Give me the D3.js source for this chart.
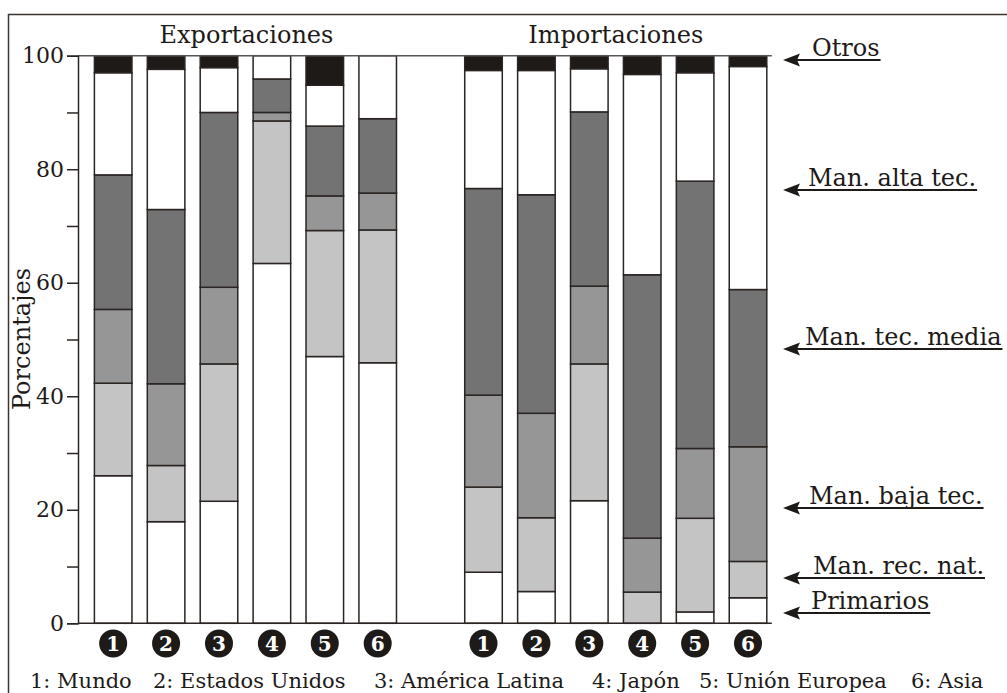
<!DOCTYPE html>
<html><head><meta charset="utf-8">
<script src="https://cdn.jsdelivr.net/npm/d3@7"></script>
<style>
html,body{margin:0;padding:0;background:#fff;}
svg{display:block;}
text{font-family:"DejaVu Serif",serif;fill:#1e1a18;}
</style></head>
<body>
<svg id="chart" width="1007" height="693"></svg>
<script>
// ---- data ----
const regions = ["Mundo","Estados Unidos","América Latina","Japón","Unión Europea","Asia"];
const regionNumbers = ["1","2","3","4","5","6"];
const seriesNames = ["Primarios","Man. rec. nat.","Man. baja tec.","Man. tec. media","Man. alta tec.","Otros"];
const groupTitles = ["Exportaciones","Importaciones"];
const yTicks = [0,20,40,60,80,100];
const yMinorTicks = [10,30,50,70,90];

const expPrimarios = [26.0, 17.9, 21.5, 63.4, 47.0, 45.9];
const expRecNat    = [16.3,  9.9, 24.2, 25.1, 22.2, 23.4];
const expBaja      = [13.0, 14.4, 13.5,  1.5,  6.1,  6.5];
const expMedia     = [23.7, 30.7, 30.8,  5.9, 12.3, 13.1];
const expAlta      = [18.0, 24.7,  7.9,  4.1,  7.2, 11.1];
const expOtros     = [ 3.0,  2.4,  2.1,  0.0,  5.2,  0.0];

const impPrimarios = [ 9.0,  5.6, 21.6,  0.0,  2.0,  4.5];
const impRecNat    = [15.0, 13.0, 24.1,  5.5, 16.5,  6.4];
const impBaja      = [16.2, 18.4, 13.7,  9.5, 12.3, 20.2];
const impMedia     = [36.4, 38.5, 30.7, 46.4, 47.1, 27.7];
const impAlta      = [20.8, 21.9,  7.6, 35.3, 19.1, 39.3];
const impOtros     = [ 2.6,  2.6,  2.3,  3.3,  3.0,  1.9];

// ---- styles / layout ----
const colors = ["#ffffff","#c4c4c4","#969696","#737373","#ffffff","#1e1a18"];
const ink = "#2a2522";
const legendY = [613, 578, 508, 349, 190, 60];   // arrow line y per series
const legendTextX = [811, 813, 809, 805, 808, 812];
const footerX = [30, 153, 374, 592, 699, 911];

const svg = d3.select("#chart");

// build rows
const expSeries = [expPrimarios, expRecNat, expBaja, expMedia, expAlta, expOtros];
const impSeries = [impPrimarios, impRecNat, impBaja, impMedia, impAlta, impOtros];
const rows = [];
regions.forEach((r,i)=>{
  const o = {key:"E"+i, idx:i};
  seriesNames.forEach((s,j)=>o[s]=expSeries[j][i]);
  rows.push(o);
});
const impRows = [];
regions.forEach((r,i)=>{
  const o = {key:"I"+i, idx:i};
  seriesNames.forEach((s,j)=>o[s]=impSeries[j][i]);
  impRows.push(o);
});
const allRows = rows.concat(impRows);
const domain = rows.map(d=>d.key).concat(["gap"]).concat(impRows.map(d=>d.key));

const x = d3.scaleBand().domain(domain).range([78, 783.2]).paddingInner(0.29).paddingOuter(0.31);
const y = d3.scaleLinear().domain([0,100]).range([623.3, 55.7]);

// outer frame
svg.append("rect").attr("x",8.5).attr("y",14.5).attr("width",1010).attr("height",700)
  .attr("fill","none").attr("stroke","#3a3533").attr("stroke-width",1.5);

// stacked bars
const stack = d3.stack().keys(seriesNames);
const stacked = stack(allRows);
const g = svg.append("g");
stacked.forEach((layer,j)=>{
  g.selectAll(null).data(layer.filter(d=>d[1]-d[0]>0)).enter().append("rect")
    .attr("x",d=>x(d.data.key))
    .attr("width",x.bandwidth())
    .attr("y",d=>y(d[1]))
    .attr("height",d=>y(d[0])-y(d[1]))
    .attr("fill",colors[j])
    .attr("stroke",ink).attr("stroke-width",1.5);
});

// baseline and top line
const xEnd = x(domain[domain.length-1]) + x.bandwidth() + 5;
svg.append("line").attr("x1",78).attr("x2",xEnd).attr("y1",y(0)).attr("y2",y(0))
  .attr("stroke",ink).attr("stroke-width",1.5);
svg.append("line").attr("x1",78).attr("x2",xEnd).attr("y1",y(100)).attr("y2",y(100))
  .attr("stroke","#5a5553").attr("stroke-width",1.5);

// y axis
const yAxis = d3.axisLeft(y).tickValues(yTicks).tickSize(11).tickPadding(3).tickFormat(d3.format("d"));
const ya = svg.append("g").attr("transform","translate(78,0)").call(yAxis);
ya.select(".domain").attr("stroke",ink).attr("stroke-width",1.5);
ya.selectAll(".tick line").attr("stroke",ink).attr("stroke-width",1.5);
ya.selectAll(".tick text").attr("font-family","DejaVu Serif").attr("font-size",22).attr("fill","#1e1a18");
const yMinor = d3.axisLeft(y).tickValues(yMinorTicks).tickSize(11).tickFormat("");
const ym = svg.append("g").attr("transform","translate(78,0)").call(yMinor);
ym.select(".domain").remove();
ym.selectAll(".tick line").attr("stroke",ink).attr("stroke-width",1.5);

// y label
svg.append("text").attr("transform","translate(30,339) rotate(-90)")
  .attr("text-anchor","middle").attr("font-size",24).text("Porcentajes");

// group titles
const expCenter = (x("E0") + x("E5") + x.bandwidth())/2;
const impCenter = (x("I0") + x("I5") + x.bandwidth())/2;
svg.append("text").attr("x",expCenter+1).attr("y",43).attr("text-anchor","middle").attr("font-size",24).text(groupTitles[0]);
svg.append("text").attr("x",impCenter).attr("y",43).attr("text-anchor","middle").attr("font-size",24).text(groupTitles[1]);

// numbered circles
const cg = svg.append("g");
allRows.forEach(d=>{
  const cx = x(d.key) + x.bandwidth()/2;
  cg.append("circle").attr("cx",cx).attr("cy",643.5).attr("r",14).attr("fill","#1e1a18");
  cg.append("text").attr("x",cx).attr("y",650.8).attr("text-anchor","middle")
    .attr("font-family","Liberation Sans, Arial, sans-serif").attr("font-weight","bold")
    .attr("font-size",20).style("fill","#ffffff").text(regionNumbers[d.idx]);
});

// footer
regions.forEach((r,i)=>{
  svg.append("text").attr("x",footerX[i]).attr("y",688).attr("font-size",21)
    .text(regionNumbers[i]+": "+r);
});

// legend with arrows
seriesNames.forEach((s,j)=>{
  const ly = legendY[j];
  const t = svg.append("text").attr("x",legendTextX[j]).attr("y",ly-4).attr("font-size",24).text(s);
  const w = t.node().getComputedTextLength();
  svg.append("line").attr("x1",790).attr("x2",legendTextX[j]+w+1).attr("y1",ly).attr("y2",ly)
    .attr("stroke","#1e1a18").attr("stroke-width",2.2);
  svg.append("path").attr("d",`M783,${ly} L800,${ly-6.5} L797,${ly} L800,${ly+6.5} Z`).attr("fill","#1e1a18");
});
</script>
</body></html>
